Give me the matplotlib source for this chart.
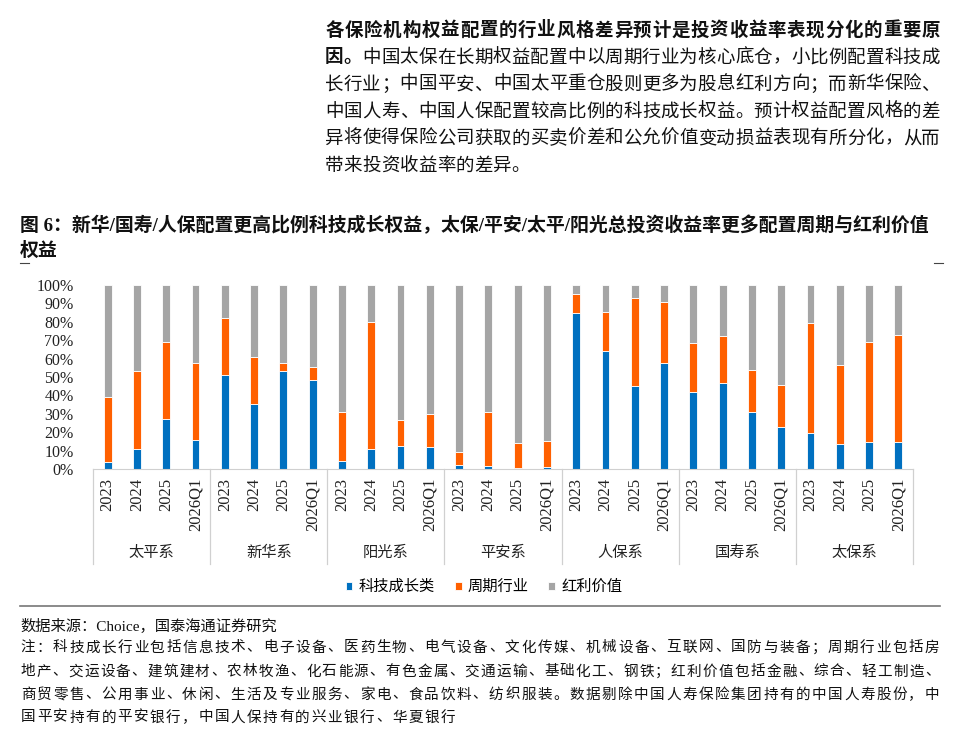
import numpy as np
import matplotlib
matplotlib.use('Agg')
import matplotlib.pyplot as plt
from matplotlib.transforms import blended_transform_factory

plt.rcParams['font.family'] = ['Liberation Serif', 'Noto Sans CJK SC', 'DejaVu Sans']

# 数据
groups = ['太平系', '新华系', '阳光系', '平安系', '人保系', '国寿系', '太保系']
periods = ['2023', '2024', '2025', '2026Q1']
tech = [4, 11, 27, 16,
        51, 35.5, 53, 48.5,
        4.3, 10.7, 12.5, 12,
        2, 1.4, 0.3, 1,
        85, 64, 45, 57.5,
        41.6, 47, 31, 23,
        19.7, 13.4, 14.5, 14.6]
cycle = [35, 42, 42, 41.5,
         31, 25.5, 4.5, 7,
         26.7, 69.3, 13.9, 18,
         7, 29.6, 13.7, 14,
         10, 21.4, 47.8, 33.1,
         26.9, 25.5, 23, 22.6,
         59.9, 43, 54.5, 58.1]
series_names = ['科技成长类', '周期行业', '红利价值']
colors = ['#0070C0', '#FF6000', '#A5A5A5']

tech = np.array(tech) / 100
cycle = np.array(cycle) / 100
div = 1 - tech - cycle

W, H = 960, 731
fig = plt.figure(figsize=(W / 100, H / 100), dpi=100)

def px(x, y):
    return x / W, 1 - y / H

# 正文
body = [
    '各保险机构权益配置的行业风格差异预计是投资收益率表现分化的重要原',
    '因。中国太保在长期权益配置中以周期行业为核心底仓，小比例配置科技成',
    '长行业；中国平安、中国太平重仓股则更多为股息红利方向；而新华保险、',
    '中国人寿、中国人保配置较高比例的科技成长权益。预计权益配置风格的差',
    '异将使得保险公司获取的买卖价差和公允价值变动损益表现有所分化，从而',
    '带来投资收益率的差异。',
]
body_y = [31, 58, 85, 112, 139, 166]

def justify(s, x0, x1, y, size, weight='normal'):
    n = len(s)
    step = (x1 - x0) / n
    for i, ch in enumerate(s):
        fig.text(*px(x0 + (i + 0.5) * step, y), ch, fontsize=size, weight=weight,
                 ha='center', va='center', color='#111111')

for i, (line, y) in enumerate(zip(body, body_y)):
    if i == 0:
        justify(line, 325, 940, y, 13.3, 'bold')
    elif i == 1:
        step = 615 / len(line)
        justify(line[:2], 325, 325 + 2 * step, y, 13.3, 'bold')
        justify(line[2:], 325 + 2 * step, 940, y, 13.3)
    elif i < 5:
        justify(line, 325, 940, y, 13.3)
    else:
        step = 615 / 33
        justify(line, 325, 325 + step * len(line), y, 13.3)

# 图标题
fig.text(*px(20, 226), '图 6：新华/国寿/人保配置更高比例科技成长权益，太保/平安/太平/阳光总投资收益率更多配置周期与红利价值',
         fontsize=13.6, weight='bold', ha='left', va='center', color='#111111')
fig.text(*px(20, 251), '权益', fontsize=13.6, weight='bold', ha='left', va='center', color='#111111')
fig.add_artist(plt.Line2D([20 / W, 29 / W], [1 - 263 / H] * 2, color='#444444', lw=0.8))
fig.add_artist(plt.Line2D([934 / W, 943 / W], [1 - 263 / H] * 2, color='#444444', lw=0.8))

# 图表
ax = fig.add_axes([93 / W, 1 - 469 / H, 820 / W, 184 / H])
x = np.arange(len(tech))
bw = 0.27
ax.bar(x, tech, bw, color=colors[0], edgecolor='white', linewidth=0.6, label=series_names[0])
ax.bar(x, cycle, bw, bottom=tech, color=colors[1], edgecolor='white', linewidth=0.6, label=series_names[1])
ax.bar(x, div, bw, bottom=tech + cycle, color=colors[2], edgecolor='white', linewidth=0.6, label=series_names[2])
ax.set_xlim(-0.5, len(tech) - 0.5)
ax.set_ylim(0, 1)
ax.set_yticks(np.arange(0, 1.01, 0.1))
ax.set_yticklabels([f'{int(round(v * 100))}%' for v in np.arange(0, 1.01, 0.1)],
                   fontsize=11.5, family='Liberation Serif', color='#222222')
ax.tick_params(axis='y', length=0, pad=14)
ax.set_xticks([])
for s in ['top', 'right', 'left']:
    ax.spines[s].set_visible(False)
ax.spines['bottom'].set_color('#D0D0D0')

tr = blended_transform_factory(ax.transData, fig.transFigure)
for g in range(len(groups) + 1):
    xs = g * 4 - 0.5
    ax.plot([xs, xs], [1 - 469 / H, 1 - 564 / H], transform=tr, color='#D0D0D0',
            lw=0.9, clip_on=False)
for i in range(len(tech)):
    fig.text(i, 1 - 478 / H, periods[i % 4], transform=tr, rotation=90, ha='center',
             va='top', fontsize=12, family='Liberation Serif', color='#222222')
for g, name in enumerate(groups):
    fig.text(g * 4 + 1.5, 1 - 553 / H, name, transform=tr, ha='center', va='center',
             fontsize=11, color='#222222')

fig.legend(loc='center', bbox_to_anchor=(484 / W, 1 - 587 / H), ncol=3, frameon=False,
           fontsize=11, handlelength=0.45, handleheight=0.45, handletextpad=0.4,
           columnspacing=1.3)

# 来源与注释
fig.add_artist(plt.Line2D([20 / W, 940 / W], [1 - 606 / H] * 2, color='#777777', lw=1.2))
fig.text(*px(20, 626), '数据来源：Choice，国泰海通证券研究', fontsize=11, ha='left', va='center',
         color='#111111')
notes = [
    '注：科技成长行业包括信息技术、电子设备、医药生物、电气设备、文化传媒、机械设备、互联网、国防与装备；周期行业包括房',
    '地产、交运设备、建筑建材、农林牧渔、化石能源、有色金属、交通运输、基础化工、钢铁；红利价值包括金融、综合、轻工制造、',
    '商贸零售、公用事业、休闲、生活及专业服务、家电、食品饮料、纺织服装。数据剔除中国人寿保险集团持有的中国人寿股份，中',
    '国平安持有的平安银行，中国人保持有的兴业银行、华夏银行',
]
note_y = [648, 672, 695, 718]
for i, (line, y) in enumerate(zip(notes, note_y)):
    if i < 3:
        justify(line, 20, 940, y, 10.5)
    else:
        step = 920 / len(notes[2])
        justify(line, 20, 20 + step * len(line), y, 10.5)

fig.savefig('out.png', dpi=100)
